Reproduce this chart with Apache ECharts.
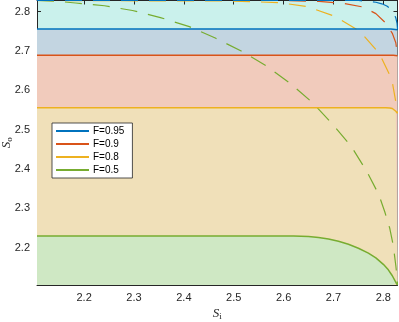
<!DOCTYPE html>
<html lang="en">
<head>
  <meta charset="UTF-8">
  <title>F curves</title>
  <script src="https://cdn.jsdelivr.net/npm/echarts@6/dist/echarts.min.js"></script>
  <style>
    html, body { margin: 0; padding: 0; background: #fff; }
  </style>
</head>
<body>
<div id="chart" style="width: 399px; height: 322px"></div>
<script>
  // axis limits and ticks
  const xMin = 2.1055, xMax = 2.8284;
  const yMin = 2.1055, yMax = 2.8284;
  const tickValues = [2.2, 2.3, 2.4, 2.5, 2.6, 2.7, 2.8];

  const fLabels = ['F=0.95', 'F=0.9', 'F=0.8', 'F=0.5'];
  const lineColors = ['#0072bd', '#d95319', '#edb120', '#77ac30'];
  const bandColors = ['#c3d5e1', '#f1cbbc', '#f0e0b9', '#cfe8c4'];
  const topBandColor = '#caf1ec';

  // solid boundaries (x, y)
  const solid095 = [[2.1055, 2.756], [2.815, 2.756], [2.8284, 2.754]];
  const solid09 = [[2.1055, 2.689], [2.82, 2.689], [2.8284, 2.688]];
  const solid08 = [[2.1055, 2.556], [2.805, 2.556], [2.813, 2.5555], [2.818, 2.554], [2.822, 2.551],
    [2.825, 2.547], [2.8284, 2.542]];
  const solid05 = [[2.1055, 2.2297], [2.62, 2.2297], [2.65, 2.2285], [2.67, 2.2262], [2.69, 2.2222],
    [2.71, 2.2165], [2.73, 2.209], [2.75, 2.199], [2.77, 2.1865], [2.785, 2.1745], [2.8, 2.158],
    [2.81, 2.144], [2.818, 2.129], [2.823, 2.117], [2.8265, 2.109], [2.8284, 2.1055]];

  // dashed curves
  const dash095 = [[2.1055, 2.8284], [2.75, 2.8284], [2.785, 2.824], [2.797, 2.820], [2.807, 2.8145],
    [2.815, 2.807], [2.821, 2.797], [2.825, 2.784], [2.8275, 2.770], [2.8284, 2.756]];
  const dash09 = [[2.1055, 2.8284], [2.6, 2.8284], [2.671, 2.826], [2.72, 2.821], [2.759, 2.812],
    [2.785, 2.795], [2.805, 2.771], [2.818, 2.745], [2.825, 2.721], [2.8284, 2.689]];
  const dash08 = [[2.1055, 2.8284], [2.5, 2.827], [2.591, 2.823], [2.647, 2.813], [2.703, 2.788],
    [2.753, 2.750], [2.792, 2.694], [2.817, 2.628], [2.825, 2.571], [2.8284, 2.542]];
  const dash05 = [[2.1055, 2.8284], [2.15, 2.826], [2.183, 2.822], [2.241, 2.815], [2.297, 2.803],
    [2.353, 2.785], [2.411, 2.762], [2.463, 2.733], [2.515, 2.700], [2.567, 2.661], [2.613, 2.618],
    [2.657, 2.570], [2.697, 2.516], [2.735, 2.459], [2.766, 2.396], [2.791, 2.335], [2.803, 2.291],
    [2.813, 2.249], [2.82, 2.205], [2.825, 2.155], [2.8275, 2.125], [2.8284, 2.106]];

  const solids = [solid095, solid09, solid08, solid05];
  const dashes = [dash095, dash09, dash08, dash05];

  const axisColor = '#262626';
  const labelFont = {color: axisColor, fontSize: 11, fontFamily: 'Liberation Sans'};

  function axisName(sub) {
    return {
      text: '{s|S}{b|' + sub + '}',
      rich: {
        s: {fontFamily: 'Liberation Serif', fontStyle: 'italic', fontSize: 13, color: axisColor},
        b: {fontFamily: 'Liberation Serif', fontSize: 9, color: axisColor, verticalAlign: 'bottom', padding: [6, 0, 0, 0]}
      }
    };
  }

  const series = [];
  // bands, painted from the top band down
  solids.forEach((d, i) => {
    series.push({
      name: 'band' + i,
      type: 'line',
      data: d,
      symbol: 'none',
      silent: true,
      lineStyle: {width: 0},
      areaStyle: {color: bandColors[i], opacity: 1, origin: 'start'},
      z: 1
    });
  });
  dashes.slice().reverse().forEach((d, j) => {
    const i = dashes.length - 1 - j;
    series.push({
      name: fLabels[i] + ' dashed',
      type: 'line',
      data: d,
      symbol: 'none',
      lineStyle: {color: lineColors[i], width: 1.2, type: [17, 11]},
      z: 3
    });
  });
  solids.forEach((d, i) => {
    series.push({
      name: fLabels[i],
      type: 'line',
      data: d,
      symbol: 'none',
      color: lineColors[i],
      lineStyle: {color: lineColors[i], width: 1.5},
      z: 4
    });
  });

  const xName = axisName('i');
  const yName = axisName('o');

  const chart = echarts.init(document.getElementById('chart'));
  chart.setOption({
    animation: false,
    backgroundColor: '#fff',
    grid: {
      left: 37, right: 1.5, top: 0.5, bottom: 37,
      outerBoundsMode: 'none', containLabel: false,
      show: true, backgroundColor: topBandColor, borderWidth: 0
    },
    legend: {
      data: fLabels,
      orient: 'vertical',
      left: 52,
      top: 123,
      itemWidth: 33,
      itemHeight: 10,
      itemGap: 3,
      padding: [3, 8, 3, 3],
      backgroundColor: '#fff',
      borderColor: axisColor,
      borderWidth: 0.8,
      borderRadius: 0,
      itemStyle: {opacity: 0},
      lineStyle: {opacity: 1},
      textStyle: {fontSize: 10, fontFamily: 'Liberation Sans', color: '#000', padding: [0, 0, 0, -1]}
    },
    xAxis: [{
      type: 'value', min: xMin, max: xMax, position: 'bottom',
      name: xName.text, nameLocation: 'middle', nameGap: 21, nameMoveOverlap: false,
      nameTextStyle: {rich: xName.rich},
      axisLine: {show: true, lineStyle: {color: axisColor, width: 1}},
      axisTick: {show: true, inside: true, length: 4, customValues: tickValues, lineStyle: {color: axisColor}},
      axisLabel: Object.assign({customValues: tickValues, margin: 7, formatter: v => v.toFixed(1)}, labelFont),
      splitLine: {show: false}
    }, {
      type: 'value', min: xMin, max: xMax, position: 'top',
      axisLine: {show: true, lineStyle: {color: axisColor, width: 1}},
      axisTick: {show: true, inside: true, length: 4, customValues: tickValues, lineStyle: {color: axisColor}},
      axisLabel: {show: false},
      splitLine: {show: false}
    }],
    yAxis: [{
      type: 'value', min: yMin, max: yMax, position: 'left',
      name: yName.text, nameLocation: 'middle', nameGap: 23, nameMoveOverlap: false,
      nameTextStyle: {rich: yName.rich},
      axisLine: {show: true, lineStyle: {color: axisColor, width: 1}},
      axisTick: {show: true, inside: true, length: 4, customValues: tickValues, lineStyle: {color: axisColor}},
      axisLabel: Object.assign({customValues: tickValues, margin: 7, formatter: v => v.toFixed(1)}, labelFont),
      splitLine: {show: false}
    }, {
      type: 'value', min: yMin, max: yMax, position: 'right',
      axisLine: {show: true, lineStyle: {color: axisColor, width: 1}},
      axisTick: {show: true, inside: true, length: 4, customValues: tickValues, lineStyle: {color: axisColor}},
      axisLabel: {show: false},
      splitLine: {show: false}
    }],
    series: series
  });
</script>
</body>
</html>
